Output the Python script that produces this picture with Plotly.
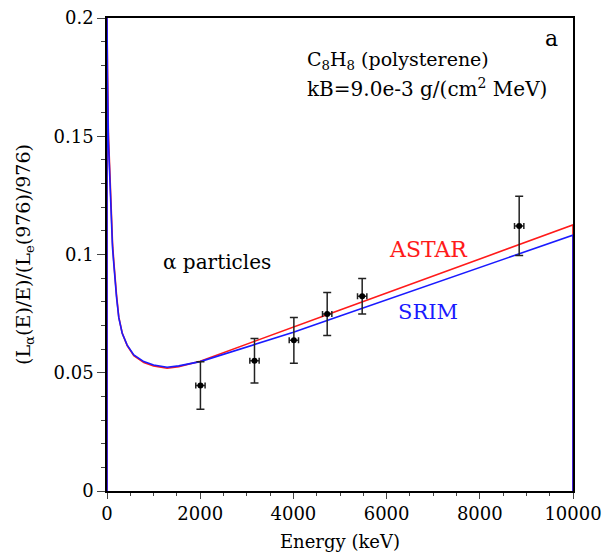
import plotly.graph_objects as go

# ---- data ----
astar_E = [0, 0, 10, 30, 54, 90, 118, 146, 167, 204, 253, 326, 433, 575, 790, 1000, 1290, 1540,
           2000, 3000, 4000, 5000, 6000, 7000, 8000, 9000, 10000, 10000]
astar_L = [0, 0.2, 0.179, 0.151, 0.136, 0.118, 0.105, 0.097, 0.090, 0.083, 0.0735, 0.0668, 0.0615, 0.0572,
           0.0543, 0.0529, 0.0519, 0.0526, 0.0549, 0.0620, 0.0692, 0.0765, 0.0837, 0.0909, 0.0981,
           0.1053, 0.1125, 0]

srim_E = [0, 0, 10, 30, 54, 90, 118, 146, 167, 204, 253, 326, 433, 575, 790, 1000, 1290, 1540,
          2000, 3000, 4000, 5000, 6000, 7000, 8000, 9000, 10000, 10000]
srim_L = [0, 0.2, 0.175, 0.148, 0.134, 0.116, 0.103, 0.096, 0.089, 0.082, 0.0733, 0.0667, 0.0617, 0.0575,
          0.0547, 0.0533, 0.0523, 0.0529, 0.0547, 0.0609, 0.0671, 0.0740, 0.0808, 0.0877, 0.0945,
          0.1013, 0.1082, 0]

pts_E = [2005, 3165, 4010, 4725, 5476, 8845]
pts_L = [0.0446, 0.0551, 0.0637, 0.0748, 0.0823, 0.1121]
pts_dL = [0.0100, 0.0094, 0.0097, 0.0091, 0.0075, 0.0125]
pts_dE = [100, 100, 100, 100, 100, 100]

FONT = "DejaVu Serif"

fig = go.Figure()
fig.add_trace(go.Scatter(x=astar_E, y=astar_L, mode="lines",
                         line=dict(color="#ff1a1a", width=1.6), showlegend=False))
fig.add_trace(go.Scatter(x=srim_E, y=srim_L, mode="lines",
                         line=dict(color="#1a1aff", width=1.6), showlegend=False))
fig.add_trace(go.Scatter(x=pts_E, y=pts_L, mode="markers",
                         marker=dict(color="black", size=6),
                         error_y=dict(type="data", array=pts_dL, color="#222", thickness=1.5, width=4),
                         error_x=dict(type="data", array=pts_dE, color="#222", thickness=1.5, width=3),
                         showlegend=False))

ann = [
    dict(x=9720, y=0.1915, text="a", xanchor="right", font_size=22),
    dict(x=4250, y=0.1822, text="C<sub>8</sub>H<sub>8</sub> (polysterene)", xanchor="left", font_size=19),
    dict(x=4250, y=0.1702, text="kB=9.0e-3 g/(cm<sup>2</sup> MeV)", xanchor="left", font_size=20),
    dict(x=2354, y=0.0968, text="α particles", xanchor="center", font_size=20),
    dict(x=6898, y=0.1023, text="ASTAR", xanchor="center", font_size=22, font_color="#ff1a1a"),
    dict(x=6898, y=0.0757, text="SRIM", xanchor="center", font_size=21, font_color="#1a1aff"),
]
for a in ann:
    fc = a.pop("font_color", "black")
    fs = a.pop("font_size")
    fig.add_annotation(**a, xref="x", yref="y", showarrow=False, yanchor="middle",
                       font=dict(family=FONT, size=fs, color=fc))

fig.update_layout(
    width=605, height=558,
    margin=dict(l=107, r=32, t=18, b=67),
    paper_bgcolor="white", plot_bgcolor="white",
    font=dict(family=FONT, size=18, color="black"),
    xaxis=dict(range=[0, 10000], dtick=2000, tick0=0, tickformat="d", ticks="outside", ticklen=6, tickwidth=1.2,
               showgrid=False, zeroline=False, showline=True, linecolor="black", linewidth=1.5,
               mirror=True, layer="below traces", automargin=False,
               minor=dict(dtick=500, ticks="outside", ticklen=3, tickwidth=1.2, showgrid=False),
               title=dict(text="Energy (keV)", font=dict(family=FONT, size=18), standoff=12),
               tickfont=dict(family=FONT, size=18)),
    yaxis=dict(range=[0, 0.2], dtick=0.05, tick0=0, ticks="outside", ticklen=8, tickwidth=1.2,
               showgrid=False, zeroline=False, showline=True, linecolor="black", linewidth=1.5,
               mirror=True, layer="below traces", automargin=False,
               minor=dict(dtick=0.01, ticks="outside", ticklen=4, tickwidth=1.2, showgrid=False),
               title=dict(text="(L<sub>α</sub>(E)/E)/(L<sub>e</sub>(976)/976)", font=dict(family=FONT, size=19), standoff=18),
               tickfont=dict(family=FONT, size=18)),
)

fig.write_html("out.html")
